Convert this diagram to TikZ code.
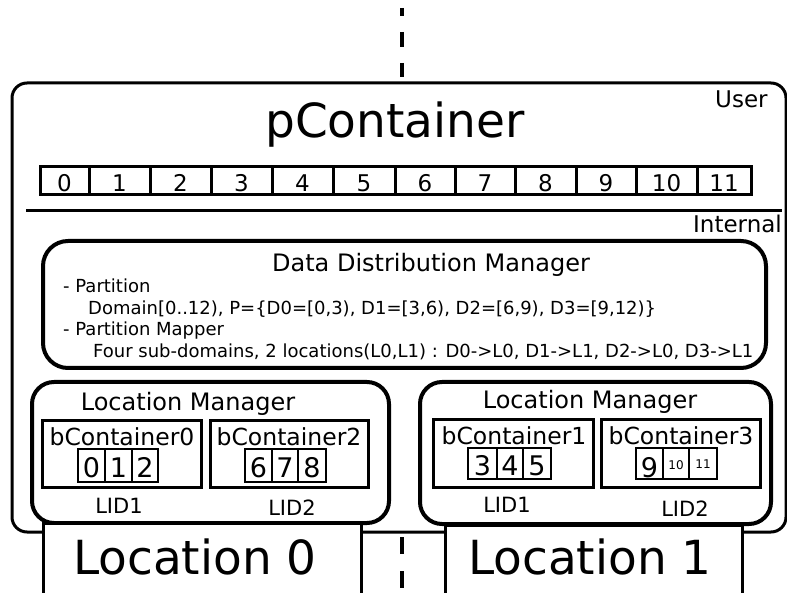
\documentclass[tikz,border=0pt]{standalone}
\usepackage{fontspec}
\setmainfont{DejaVu Sans}
\begin{document}
\begin{tikzpicture}[x=1pt,y=-1pt,
  txt/.style={font=\fontsize{#1}{#1}\selectfont, inner sep=0pt},
  frame/.style={draw, line width=3pt},
  panel/.style={draw, line width=4pt, rounded corners=#1},
  cellline/.style={draw, line width=1.5pt},
  divider/.style={draw, line width=4pt, dash pattern=on 15pt off 16pt}]
\useasboundingbox (0,0) rectangle (787,593);

% process boundary
\coordinate (dtop1) at (402,8);
\coordinate (dtop2) at (402,77);
\coordinate (dbot1) at (402,537);
\coordinate (dbot2) at (402,593);
\draw[divider, dash phase=7pt] (dtop1) -- (dtop2);
\draw[divider, dash pattern=on 17pt off 17pt] (dbot1) -- (dbot2);

% pContainer frame
\draw[line width=3pt, rounded corners=15pt] (12,83) rectangle (786,532);
\node[txt=23, anchor=base west] (user) at (715,108) {User};
\node[txt=47, anchor=base] (title) at (395,138) {pContainer};

% global index array
\draw[frame] (40,167) rectangle (751,195);
\foreach \x in {89,150,211,272,333,395,455,515,576,636,697}
  \draw[line width=3pt] (\x,167) -- (\x,195);
\foreach \i/\x in {0/64.5,1/119.5,2/180.5,3/241.5,4/302.5,5/364,6/425,7/485,8/545.5,9/606,10/666.5,11/724}
  \node[txt=23, anchor=base] (g\i) at (\x,192) {\i};

% user/internal separator
\draw[line width=3pt] (26,211) -- (782,211);
\node[txt=23, anchor=base east] (internal) at (782,233) {Internal};

% data distribution manager
\draw[panel=25pt] (43,241) rectangle (766,368);
\node[txt=24, anchor=base] (ddm) at (431,272) {Data Distribution Manager};
\node[txt=18, anchor=base west] (p1) at (63,293) {- Partition};
\node[txt=18, anchor=base west] (p2) at (88,315) {Domain[0..12), P=\{D0=[0,3), D1=[3,6), D2=[6,9), D3=[9,12)\}};
\node[txt=18, anchor=base west] (p3) at (63,336) {- Partition Mapper};
\node[txt=18, anchor=base west] (p4) at (93,358) {Four sub-domains, 2 locations(L0,L1) : D0->L0, D1->L1, D2->L0, D3->L1};

% location manager 0
\draw[panel=22pt] (32,382) rectangle (389,523);
\node[txt=24, anchor=base] (lm0) at (188,410) {Location Manager};
\draw[frame] (42,420) rectangle (201,487);
\node[txt=23.5, anchor=base] (bc0) at (122,445) {bContainer0};
\draw[cellline] (78,449) rectangle (158,482) (105,449) -- (105,482) (132,449) -- (132,482);
\node[txt=27, anchor=base] (c0) at (91.5,477) {0};
\node[txt=27, anchor=base] (c1) at (118.5,477) {1};
\node[txt=27, anchor=base] (c2) at (145,477) {2};
\draw[frame] (210,420) rectangle (368,487);
\node[txt=23.5, anchor=base] (bc2) at (289,445) {bContainer2};
\draw[cellline] (245,449) rectangle (326,482) (272,449) -- (272,482) (298,449) -- (298,482);
\node[txt=27, anchor=base] (c6) at (258.5,477) {6};
\node[txt=27, anchor=base] (c7) at (285,477) {7};
\node[txt=27, anchor=base] (c8) at (312,477) {8};
\node[txt=21, anchor=base] (lid01) at (119,513) {LID1};
\node[txt=21, anchor=base] (lid02) at (292,515) {LID2};

% location manager 1
\draw[panel=22pt] (420,382) rectangle (771,524);
\node[txt=24, anchor=base] (lm1) at (590,409) {Location Manager};
\draw[frame] (433,419) rectangle (593,487);
\node[txt=23.5, anchor=base] (bc1) at (514,444) {bContainer1};
\draw[cellline] (468,448) rectangle (551,479) (497,448) -- (497,479) (523,448) -- (523,479);
\node[txt=27, anchor=base] (c3) at (482.5,475) {3};
\node[txt=27, anchor=base] (c4) at (510,475) {4};
\node[txt=27, anchor=base] (c5) at (537,475) {5};
\draw[frame] (601,419) rectangle (760,487);
\node[txt=23.5, anchor=base] (bc3) at (681,444) {bContainer3};
\draw[cellline] (636,448) rectangle (717,479) (663,448) -- (663,479) (689,448) -- (689,479);
\node[txt=27, anchor=base] (c9) at (649.5,477) {9};
\node[txt=12, anchor=base] (c10) at (676,469) {10};
\node[txt=12, anchor=base] (c11) at (703,468) {11};
\node[txt=21, anchor=base] (lid11) at (507,512) {LID1};
\node[txt=21, anchor=base] (lid12) at (685,516) {LID2};

% locations
\draw[frame, fill=white] (43,523) rectangle (361,594);
\node[txt=47, anchor=base] (loc0) at (195,574) {Location 0};
\draw[frame, fill=white] (445,525) rectangle (742,594);
\node[txt=47, anchor=base] (loc1) at (590,574) {Location 1};
\end{tikzpicture}
\end{document}
